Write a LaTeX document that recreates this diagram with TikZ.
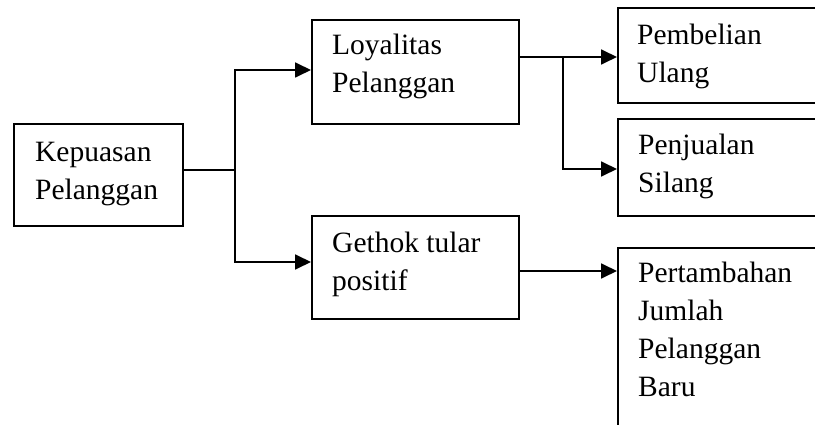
\documentclass[tikz,border=0pt]{standalone}
\usepackage{fontspec}
\setmainfont{Liberation Serif}
\usetikzlibrary{arrows.meta,calc}
\begin{document}
\begin{tikzpicture}[x=1pt,y=-1pt,
  box/.style={draw,line width=1.8pt,rectangle,inner sep=0pt,anchor=north west},
  txt/.style={anchor=base west,inner sep=0pt,font=\fontsize{29.5}{38}\selectfont},
  conn/.style={line width=1.8pt},
  arr/.style={conn,-{Triangle[length=16pt,width=15pt]}}]
\useasboundingbox (0,0) rectangle (815,425);
\clip (0,0) rectangle (815,425);
% boxes
\node[box,minimum width=169pt,minimum height=102pt] (kep) at (13,123) {};
\node[box,minimum width=207pt,minimum height=104pt] (loy) at (311,19) {};
\node[box,minimum width=207pt,minimum height=103pt] (get) at (311,215) {};
\node[box,minimum width=230pt,minimum height=95pt] (pem) at (617,7) {};
\node[box,minimum width=230pt,minimum height=97pt] (pen) at (617,118) {};
\node[box,minimum width=230pt,minimum height=200pt] (per) at (617,247) {};
% texts
\node[txt] (kept) at (35,162) {\begin{tabular}[t]{@{}l@{}}Kepuasan\\Pelanggan\end{tabular}};
\node[txt] (loyt) at (332,55) {\begin{tabular}[t]{@{}l@{}}Loyalitas\\Pelanggan\end{tabular}};
\node[txt] (gett) at (332,253) {\begin{tabular}[t]{@{}l@{}}Gethok tular\\positif\end{tabular}};
\node[txt] (pemt) at (637,45) {\begin{tabular}[t]{@{}l@{}}Pembelian\\Ulang\end{tabular}};
\node[txt] (pent) at (638,155) {\begin{tabular}[t]{@{}l@{}}Penjualan\\Silang\end{tabular}};
\node[txt] (pert) at (638,283) {\begin{tabular}[t]{@{}l@{}}Pertambahan\\Jumlah\\Pelanggan\\Baru\end{tabular}};
% junctions
\coordinate (j1) at (235,170);
\coordinate (j2) at (563,57);
% connectors
\draw[conn] (kep.east |- j1) -- (j1);
\draw[arr] (j1) |- (loy.west |- 0,70);
\draw[arr] (j1) |- (get.west |- 0,262);
\draw[arr] (loy.east |- j2) -- (pem.west |- j2);
\draw[arr] (j2) |- (pen.west |- 0,169);
\draw[arr] (get.east |- 0,271) -- (per.west |- 0,271);
\end{tikzpicture}
\end{document}
